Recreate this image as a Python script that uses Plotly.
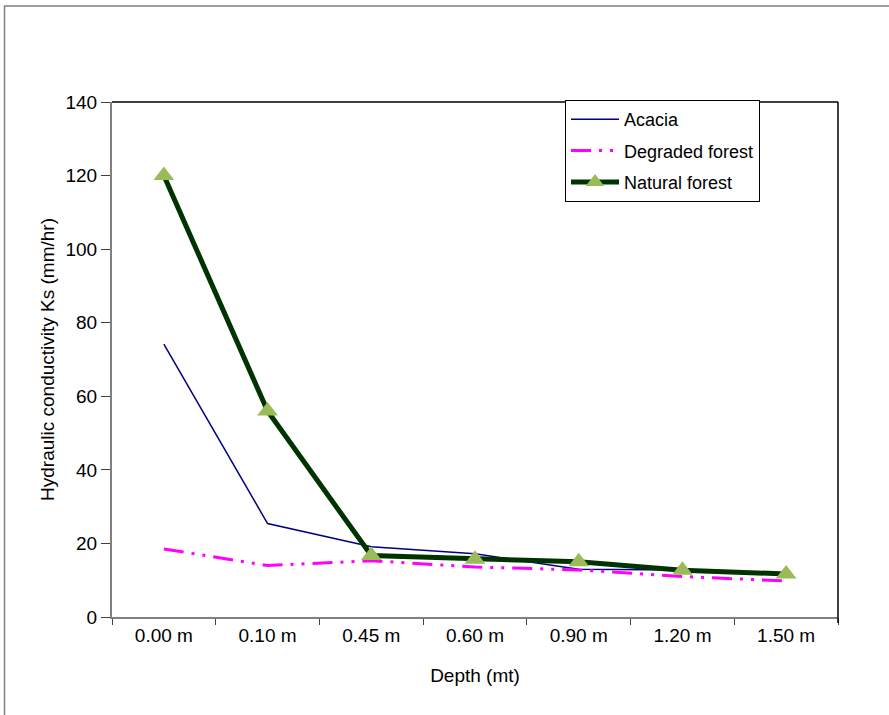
import plotly.graph_objects as go

depths = ["0.00 m", "0.10 m", "0.45 m", "0.60 m", "0.90 m", "1.20 m", "1.50 m"]
acacia = [74.2, 25.4, 19.1, 17.2, 13.0, 12.8, 11.7]
degraded = [18.5, 14.0, 15.3, 13.6, 12.8, 11.0, 9.8]
natural = [120, 56, 16.7, 15.7, 15.0, 12.7, 11.7]

W, H = 889, 715
L, R, T, B = 112, 838, 102, 617
pw, ph = R - L, B - T

def px(x):
    return (x - L) / pw

def py(y):
    return (B - y) / ph

font = "Liberation Sans, Arial, sans-serif"

fig = go.Figure()
fig.add_trace(go.Scatter(x=depths, y=acacia, name="Acacia", mode="lines",
                         line=dict(color="#000080", width=1.5), legendgroup="a"))
fig.add_trace(go.Scatter(x=depths, y=degraded, name="Degraded forest", mode="lines",
                         line=dict(color="#FF00FF", width=3, dash="20px,8px,3px,8px,3px,8px"),
                         legendgroup="b"))
fig.add_trace(go.Scatter(x=depths, y=natural, name="Natural forest", mode="lines+markers",
                         line=dict(color="#003300", width=5),
                         marker=dict(symbol="triangle-up", size=18, color="#9BBB59",
                                     line=dict(width=0)),
                         legendgroup="c"))

fig.update_layout(
    width=W, height=H,
    margin=dict(l=L, r=W - R, t=T, b=H - B),
    paper_bgcolor="white", plot_bgcolor="white",
    font=dict(family=font, size=19, color="black"),
    showlegend=True,
    legend=dict(x=px(565), y=py(100), xanchor="left", yanchor="top",
                bordercolor="black", borderwidth=1, bgcolor="white",
                font=dict(family=font, size=18), tracegroupgap=5,
                itemwidth=48, traceorder="grouped"),
    xaxis=dict(type="category", range=[-0.5, 6.5], tickson="boundaries",
               ticks="outside", ticklen=6, tickcolor="#404040",
               showline=True, linecolor="#808080", linewidth=2,
               showgrid=False, zeroline=False,
               tickfont=dict(size=19),
               title=dict(text="Depth (mt)", font=dict(size=19), standoff=24)),
    yaxis=dict(range=[0, 140], dtick=20, ticks="outside", ticklen=9,
               tickcolor="#404040",
               showline=True, linecolor="#808080", linewidth=2,
               showgrid=False, zeroline=False,
               tickfont=dict(size=19),
               title=dict(text="Hydraulic conductivity Ks (mm/hr)", font=dict(size=19),
                          standoff=6)),
    shapes=[
        dict(type="line", xref="paper", yref="paper", x0=0, x1=1, y0=1, y1=1,
             line=dict(color="black", width=1.5)),
        dict(type="line", xref="paper", yref="paper", x0=1, x1=1, y0=py(623), y1=1,
             line=dict(color="black", width=1.5)),
        dict(type="rect", xref="paper", yref="paper",
             x0=px(4.5), x1=px(900), y0=py(730), y1=py(6),
             line=dict(color="#808080", width=1.5), layer="below"),
    ],
)

fig.write_html("out.html")
